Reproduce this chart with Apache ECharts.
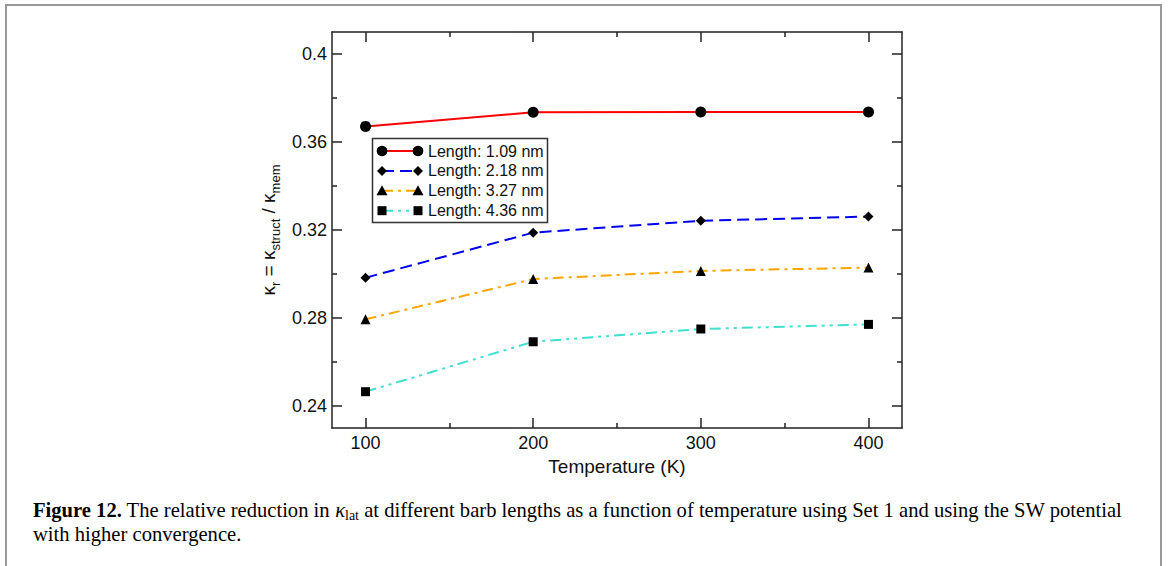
<!DOCTYPE html>
<html>
<head>
<meta charset="utf-8">
<script src="https://cdn.jsdelivr.net/npm/echarts@6/dist/echarts.min.js"></script>
<style>
html,body{margin:0;padding:0;background:#fff;}
#chart{width:1168px;height:566px;}
</style>
</head>
<body>
<div id="chart"></div>
<script>
// ---- data ----
const temps = [100, 200, 300, 400];
const seriesNames = ['Length: 1.09 nm', 'Length: 2.18 nm', 'Length: 3.27 nm', 'Length: 4.36 nm'];
const len109 = [0.3671, 0.3735, 0.3736, 0.3736];
const len218 = [0.2983, 0.3188, 0.3242, 0.3261];
const len327 = [0.2794, 0.2977, 0.3014, 0.3029];
const len436 = [0.2465, 0.2692, 0.2750, 0.2771];
const xTickLabels = [100, 200, 300, 400];
const xMinorTicks = [150, 250, 350];
const yTickLabels = [0.24, 0.28, 0.32, 0.36, 0.40];
const yMinorTicks = [0.26, 0.30, 0.34, 0.38];
const xTitle = 'Temperature (K)';
const captionLine1 = '{b|Figure 12.} The relative reduction in {k|κ}{s|lat} at different barb lengths as a function of temperature using Set 1 and using the SW potential';
const captionLine2 = 'with higher convergence.';

// ---- styles ----
const colors = ['#ff0000', '#0000ee', '#ffa500', '#40e0d0'];
const dashes = ['solid', [12, 6], [11, 5, 3, 5], [11, 5, 3, 5, 3, 5]];
const symbols = ['circle', 'diamond', 'triangle', 'rect'];
const symbolSizes = [11, 10, 10, 9];
const SANS = '"Liberation Sans", Arial, sans-serif';
const SERIF = '"Liberation Serif", "Times New Roman", serif';
const AX = '#222';
const CAP_FS = 20.6;

const allValues = [len109, len218, len327, len436];

const chart = echarts.init(document.getElementById('chart'), null, {renderer: 'svg'});

function xAxisDef(position, ticks, len, showLine, showLabel) {
  return {
    type: 'value', position: position, min: 80, max: 420,
    axisLine: {show: showLine, onZero: false, lineStyle: {color: AX, width: 1.5}},
    axisTick: {show: true, inside: true, length: len, customValues: ticks, lineStyle: {color: AX, width: 1.5}},
    axisLabel: showLabel ? {show: true, customValues: ticks, margin: 6, color: '#111', fontSize: 18, fontFamily: SANS} : {show: false},
    splitLine: {show: false}
  };
}
function yAxisDef(position, ticks, len, showLine, showLabel) {
  return {
    type: 'value', position: position, min: 0.23, max: 0.41,
    axisLine: {show: showLine, onZero: false, lineStyle: {color: AX, width: 1.5}},
    axisTick: {show: true, inside: true, length: len, customValues: ticks, lineStyle: {color: AX, width: 1.5}},
    axisLabel: showLabel ? {show: true, customValues: ticks, margin: 5, color: '#111', fontSize: 18, fontFamily: SANS} : {show: false},
    splitLine: {show: false}
  };
}

const xMain = xAxisDef('bottom', xTickLabels, 10, true, true);
xMain.name = xTitle;
xMain.nameLocation = 'middle';
xMain.nameGap = 24;
xMain.nameTextStyle = {fontSize: 19, fontFamily: SANS, color: '#111'};

const yMain = yAxisDef('left', yTickLabels, 10, true, true);
yMain.name = '{a|κ}{s|r}{a| = κ}{s|struct}{a| / κ}{s|mem}';
yMain.nameLocation = 'middle';
yMain.nameGap = 50;
yMain.nameTextStyle = {
  fontFamily: SANS, color: '#111', fontSize: 18,
  rich: {
    a: {fontSize: 19, fontFamily: SANS, color: '#111'},
    s: {fontSize: 13, fontFamily: SANS, color: '#111', verticalAlign: 'bottom', padding: [14, 0, 0, 0]}
  }
};

const series = allValues.map(function (vals, i) {
  return {
    name: seriesNames[i], type: 'line',
    data: temps.map(function (t, j) { return [t, vals[j]]; }),
    symbol: symbols[i], symbolSize: symbolSizes[i],
    showAllSymbol: true,
    itemStyle: {color: '#000'},
    lineStyle: {color: colors[i], width: 2, type: dashes[i]},
    emphasis: {disabled: true},
    silent: true, animation: false, z: 3
  };
});

// legend drawn as graphic (symbols at both ends like the original)
const legendGraphics = [{
  type: 'rect', z: 50,
  shape: {x: 372.5, y: 138.5, width: 175, height: 84},
  style: {fill: '#fff', stroke: '#333', lineWidth: 1.5}
}];
seriesNames.forEach(function (name, i) {
  const cy = 151 + i * 19.9;
  const x1 = 382, x2 = 418;
  legendGraphics.push({
    type: 'line', z: 51,
    shape: {x1: x1, y1: cy, x2: x2, y2: cy},
    style: {stroke: colors[i], lineWidth: 2, lineDash: dashes[i] === 'solid' ? null : dashes[i]}
  });
  [x1, x2].forEach(function (cx) {
    let el;
    if (symbols[i] === 'circle') el = {type: 'circle', shape: {cx: cx, cy: cy, r: 5.3}};
    else if (symbols[i] === 'diamond') el = {type: 'polygon', shape: {points: [[cx, cy - 5], [cx + 5, cy], [cx, cy + 5], [cx - 5, cy]]}};
    else if (symbols[i] === 'triangle') el = {type: 'polygon', shape: {points: [[cx, cy - 5.5], [cx + 5.5, cy + 4.5], [cx - 5.5, cy + 4.5]]}};
    else el = {type: 'rect', shape: {x: cx - 4.5, y: cy - 4.5, width: 9, height: 9}};
    el.z = 52;
    el.style = {fill: '#000'};
    legendGraphics.push(el);
  });
  legendGraphics.push({
    type: 'text', z: 52, x: 428, y: cy,
    style: {text: name, fill: '#111', font: '16px ' + SANS, verticalAlign: 'middle', align: 'left'}
  });
});

const frameAndCaption = [
  {type: 'rect', z: 1, shape: {x: 6, y: 5, width: 1155, height: 600}, style: {fill: 'none', stroke: '#999', lineWidth: 2}},
  {type: 'text', z: 5, x: 33, y: 510,
   style: {
     text: captionLine1, fill: '#000', font: CAP_FS + 'px ' + SERIF, verticalAlign: 'middle', align: 'left',
     rich: {
       b: {fontWeight: 'bold', fontSize: CAP_FS, fontFamily: SERIF, fill: '#000'},
       k: {fontStyle: 'italic', fontSize: CAP_FS, fontFamily: SERIF, fill: '#000'},
       s: {fontSize: 14, fontFamily: SERIF, fill: '#000', verticalAlign: 'bottom', padding: [10, 0, 0, 0]}
     }
   }},
  {type: 'text', z: 5, x: 33, y: 534,
   style: {text: captionLine2, fill: '#000', font: CAP_FS + 'px ' + SERIF, verticalAlign: 'middle', align: 'left'}}
];

chart.setOption({
  animation: false,
  backgroundColor: '#fff',
  grid: {left: 332, right: 266, top: 32, bottom: 138, containLabel: false},
  xAxis: [
    xMain,
    xAxisDef('bottom', xMinorTicks, 5, false, false),
    xAxisDef('top', xTickLabels, 10, true, false),
    xAxisDef('top', xMinorTicks, 5, false, false)
  ],
  yAxis: [
    yMain,
    yAxisDef('left', yMinorTicks, 5, false, false),
    yAxisDef('right', yTickLabels, 10, true, false),
    yAxisDef('right', yMinorTicks, 5, false, false)
  ],
  series: series,
  graphic: frameAndCaption.concat(legendGraphics)
});
</script>
</body>
</html>
